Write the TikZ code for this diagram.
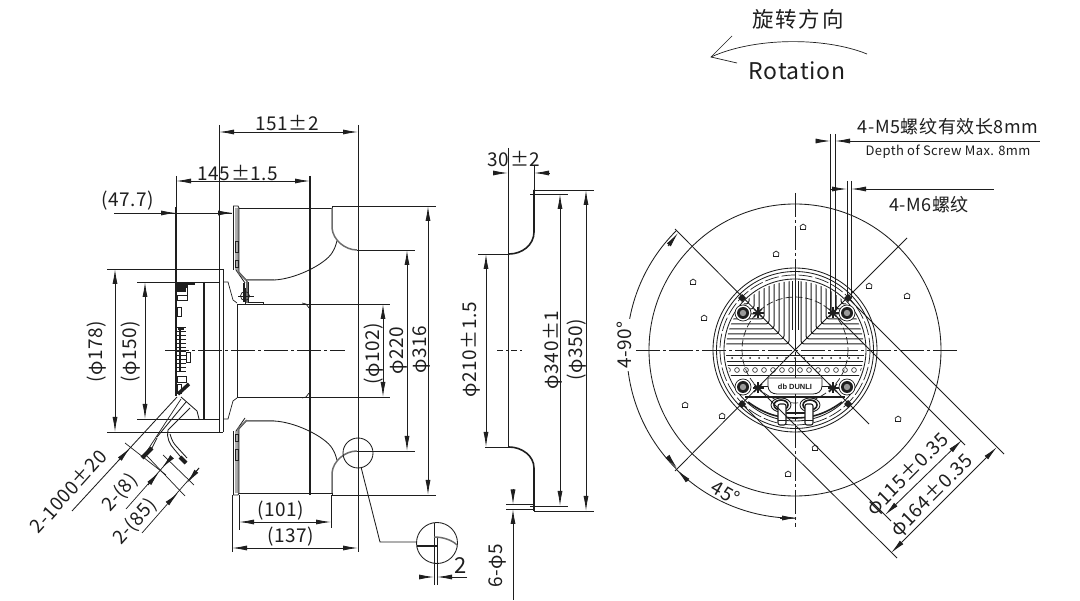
\documentclass[tikz,border=0pt]{standalone}
\usepackage{fontspec}
\setmainfont[LetterSpace=3]{Noto Sans CJK SC}
\newfontfamily\smallcn[LetterSpace=3]{Noto Sans CJK SC}
\newfontfamily\widecn[LetterSpace=9]{Noto Sans CJK SC}
\newfontfamily\brandfont{Liberation Sans}
\usetikzlibrary{arrows.meta}
\definecolor{ink}{HTML}{1E1E1E}
\tikzset{
 ln/.style={draw=ink,line width=0.85pt},
 thin/.style={draw=ink,line width=0.7pt},
 heavy/.style={draw=ink,line width=2pt},
 shade/.style={draw=ink!65,line width=1.5pt},
 cl/.style={draw=ink,line width=0.7pt,dash pattern=on 24pt off 3pt on 3pt off 3pt},
 both/.style={ln,{Latex[length=15pt,width=5pt]}-{Latex[length=15pt,width=5pt]}},
 tipe/.style={ln,-{Latex[length=15pt,width=5pt]}},
 tips/.style={ln,{Latex[length=15pt,width=5pt]}-},
 txt/.style={inner sep=0pt,text=ink,font=\fontsize{19}{21}\selectfont},
 hole/.style={draw=ink,line width=0.7pt},
}
\newcommand{\starmark}[2]{\foreach \a in {0,45,...,315}{\draw[line width=1.1pt,ink] (#1,#2) -- ++(\a:5.5);}\fill[ink] (#1,#2) circle (2);}
\newcommand{\boltmark}[2]{\fill[white] (#1,#2) circle (8);\draw[thin] (#1,#2) circle (8);\fill[ink] (#1,#2) circle (6);\fill[ink!45] (#1,#2) circle (3.2);}
\newcommand{\halfside}{%
 % plate
 \draw[ln] (233,206) -- (238,206) -- (239,208) -- (239,272) -- (247,281);
 \draw[ln] (233,206) -- (233,270);
 \draw[ln] (236,208) -- (236,270) -- (245,283);
 \draw[shade] (238,208) -- (238,272) -- (246,280) -- (274,280);
 \draw[thin] (235,241) rectangle (238,252);
 \draw[thin] (235,260) rectangle (238,267);
 % blade curve
 \draw[ln] (274,280) .. controls (296,279) and (325,264) .. (332,253) .. controls (335,248) and (336,245) .. (337,241);
 % shroud
 \draw[ln] (239,208) -- (332,208);
 \draw[ln] (332,208) -- (332,206) -- (339,206);
 \draw[ln] (332,208) -- (332,230);
 \draw[shade] (332,208) -- (332,228) .. controls (333,240) and (345,250) .. (357,250);
 \draw[ln] (339,206) -- (436,206);
 \draw[ln] (357,250) -- (415,250);
 \draw[ln] (237,304) -- (390,304);
 \draw[ln] (237,304) -- (237,352);
 \draw[thin] (302,303) -- (306,304) -- (309,308);
 % housing
 \draw[ln] (107,269) -- (223,269);
 \draw[ln] (137,282) -- (220,282);
 \draw[thin] (223,282) -- (228,282) -- (233,300) -- (237,303);
}
\begin{document}
\begin{tikzpicture}[x=1pt,y=-1pt]
\useasboundingbox (0,0) rectangle (1080,601);
\fill[white] (0,0) rectangle (1080,601);

% ---------- rotation ----------
\node[txt,font=\widecn\fontsize{21.5}{23}\selectfont] (cnrot) at (798,19) {旋转方向};
\node[txt,font=\fontsize{23}{25}\selectfont] (enrot) at (797,71) {Rotation};
\draw[thin] (711,57) .. controls (755,37) and (825,37) .. (867,54);
\draw[thin] (732,36) -- (711,57) -- (737,63);

% ---------- left view ----------
\halfside
\begin{scope}[shift={(0,701)},yscale=-1]
\halfside
\end{scope}
% bolt
\draw[shade] (247,281) -- (247,303);
\draw[thin] (248,282) -- (248,302) -- (263,302) -- (263,304);
\draw[thin] (245,296) circle (4.5);
\draw[thin] (238,296) -- (254,296) (245,288) -- (245,304);
\draw[heavy,line width=2.4pt] (244,283) -- (244,302);

% long verticals
\draw[ln] (219,125) -- (219,432);
\draw[ln] (223,269) -- (223,432);
\draw[ln] (358,125) -- (358,552);
\draw[ln,line width=1.1pt] (310,176) -- (310,495);
\draw[heavy,line width=1.6pt] (176,207) -- (176,396);
\draw[heavy,line width=1.6pt] (204,282) -- (204,419);
\draw[cl] (165,350) -- (345,350);

% motor details
\fill[ink] (176,283) rectangle (188,288);
\fill[ink] (188,283) rectangle (195,285);
\fill[ink] (176,288) rectangle (186,292);
\draw[thin] (177,295) rectangle (187,300);
\draw[thin] (177,307) rectangle (181,316);
\foreach \yy in {327,331,...,371}{\draw[thin] (177,\yy) -- (186,\yy);}
\draw[heavy,line width=1.2pt] (180,327) -- (180,372);
\fill[ink] (178,327) rectangle (184,330);
\draw[thin] (177,376) rectangle (186,382);
\draw[thin] (177,384) rectangle (181,393);
\draw[thin] (186,352) rectangle (190,362);
\draw[ln] (187,282) -- (187,300);

% cable
\draw[heavy,line width=3.5pt] (178,394) -- (189,384);
\draw[thin] (181,399) -- (147,451);
\draw[ln] (177,397) -- (72,511);
\draw[ln] (186,402) -- (157,437);
\draw[ln] (190,408) -- (168,430);
\draw[ln] (181,397) -- (197,411) -- (199,419);
\draw[ln] (157,438) -- (152,448);
\draw[ln] (168,430) .. controls (166,437) and (170,445) .. (174,449) -- (185,462);
\draw[ln] (170,434) .. controls (172,441) and (174,444) .. (177,447) -- (187,458);
\draw[heavy,line width=4pt,ink] (142,458) -- (152,448);
\draw[heavy,line width=4pt,ink] (180,457) -- (186,463);
% cable dims
\draw[thin] (125,443) -- (166,475);
\draw[thin] (147,456) -- (185,496);
\draw[thin] (163,455) -- (194,485);
\draw[tipe,line width=0.7pt] (119,460) -- (130,448);
\draw[tipe] (148,485) -- (159,472);
\draw[tipe] (171,458) -- (162,468);
\draw[thin] (126,509) -- (171,458);
\draw[tipe] (168,503) -- (178,493);
\draw[tipe] (199,468) -- (187,483);
\draw[thin] (142,533) -- (199,468);
\node[txt,rotate=48] (t1000) at (68,491) {2-1000±20};
\node[txt,rotate=48] (t8) at (120,493) {2-(8)};
\node[txt,rotate=48] (t85) at (135,522) {2-(85)};

% left dims
\draw[both] (115,269) -- (115,432);
\draw[both] (145,282) -- (145,419);
\node[txt,rotate=90] (t178) at (97,352) {(φ178)};
\node[txt,rotate=90] (t150) at (131,352) {(φ150)};
\draw[ln] (107,432) -- (223,432);
\draw[ln] (137,419) -- (220,419);

\draw[both] (219,132) -- (358,132);
\node[txt] (t151) at (287,123) {151±2};
\draw[both] (176,181) -- (310,181);
\node[txt] (t145) at (238,173) {145±1.5};
\draw[ln] (176,176) -- (176,207);
\draw[ln] (114,213) -- (232,213);
\draw[tipe] (160,213) -- (176,213);
\draw[tipe] (218,213) -- (233,213);
\node[txt] (t477) at (128,201) {(47.7)};

\draw[both] (428,206) -- (428,495);
\draw[both] (407,250) -- (407,451);
\draw[both] (383,304) -- (383,397);
\node[txt,rotate=90] (t102) at (374,354) {(φ102)};
\node[txt,rotate=90] (t220) at (398,351) {φ220};
\node[txt,rotate=90] (t316) at (421,350) {φ316};

% bottom dims
\draw[ln] (239,495) -- (239,530);
\draw[ln] (232,495) -- (232,552);
\draw[ln] (331,495) -- (331,528);
\draw[both] (239,522) -- (331,522);
\draw[both] (232,548) -- (358,548);
\node[txt] (t101) at (281,511) {(101)};
\node[txt] (t137) at (291,537) {(137)};

% detail
\draw[ln] (358,453) circle (15);
\draw[ln] (361,467) -- (380,542) -- (417,542);
\draw[ln] (437,543) circle (20.5);
\draw[ln] (434,523) -- (434,585);
\draw[ln] (437,537) -- (437,585);
\draw[heavy,line width=1.6pt] (417,546) -- (437,546);
\draw[shade] (434,537) .. controls (443,537) and (452,540) .. (457,545);
\draw[tipe] (419,577) -- (434,577);
\draw[tipe] (467,577) -- (437,577);
\node[txt,font=\fontsize{22}{24}\selectfont] (t2) at (461,566) {2};

% ---------- middle view ----------
\draw[ln] (508,148) -- (508,447);
\draw[ln] (534,165) -- (534,190);
\draw[tipe] (493,173) -- (508,173);
\draw[tipe] (549,173) -- (534,173);
\node[txt] (t30) at (514,159) {30±2};
\draw[ln] (534,190) -- (594,190);
\draw[ln] (530,194) -- (568,194);
\draw[heavy,line width=1.6pt] (534,190) -- (534,232) .. controls (534,245) and (522,254) .. (509,254);
\draw[ln] (478,254) -- (509,254);
\draw[ln] (485,447) -- (509,447);
\draw[heavy,line width=1.6pt] (509,447) .. controls (522,447) and (534,456) .. (534,468) -- (534,511);
\draw[ln] (534,511) -- (594,511);
\draw[ln] (530,506) -- (568,506);
\draw[ln] (506,504.5) -- (533,504.5);
\draw[ln] (506,509) -- (533,509);
\draw[both] (486,254) -- (486,447);
\draw[both] (560,194) -- (560,506);
\draw[both] (586,190) -- (586,511);
\draw[thin,dash pattern=on 6pt off 3pt on 2pt off 3pt] (497,350) -- (522,350);
\draw[tipe] (513,489) -- (513,504.5);
\draw[tips] (513,509) -- (513,600);
\node[txt,rotate=90] (t6) at (497,566) {6-φ5};
\node[txt,rotate=90] (t210) at (471,350) {φ210±1.5};
\node[txt,rotate=90] (t340) at (553,350) {φ340±1};
\node[txt,rotate=90] (t350) at (577,350) {(φ350)};

% ---------- right view ----------
\coordinate (c) at (795,350);
\draw[ln] (c) circle (146);
\draw[ln] (c) circle (82);
\draw[ln] (c) circle (78.5);
\draw[thin,dash pattern=on 14pt off 3pt] (c) circle (75);
\draw[ln] (c) circle (71);
\foreach \p in {(803,227),(776,254),(693,282),(869,286),(907,296),(704,318),(685,405),(722,416),(788,474),(815,448),(898,419)}{
 \path \p coordinate (hh);
 \draw[hole] (hh) ++(-2.5,2.5) -- ++(5,0) -- ++(0.4,-3.5) -- ++(-2.8,-2) -- ++(-2.8,2) -- cycle;
}
\begin{scope}
 \clip (c) circle (69);
 \foreach \d in {6,11,...,51}{
  \draw[line width=1pt,ink,rounded corners=3pt] (700,350-\d) -- (795-\d,350-\d) -- (795-\d,260);
  \draw[line width=1pt,ink,rounded corners=3pt] (890,350-\d) -- (795+\d,350-\d) -- (795+\d,260);
 }
 \foreach \d in {-3,0,3}{ \draw[line width=0.7pt,ink] (795+\d,278) -- (795+\d,330);}
 \draw[thin] (700,355) -- (890,355);
 \draw[thin] (700,361) -- (890,361);
 \draw[thin] (700,365) -- (890,365);
 \draw[thin] (700,375) -- (890,375);
 \foreach \xx in {728,737,...,864}{
  \draw[line width=0.6pt,ink] (\xx,370) circle (2.4);
  \fill[ink] (\xx+4,358) circle (1);
 }
 \draw[thin,dash pattern=on 7pt off 3pt] (c) circle (53);
\end{scope}
\draw[cl] (636,350) -- (958,350);
\draw[cl] (795,193) -- (795,527);
% brand plate
\fill[white,draw=ink,line width=0.8pt] (768,378) -- (822,378) -- (822,386) .. controls (822,391) and (818,394) .. (813,394) -- (777,394) .. controls (772,394) and (768,391) .. (768,386) -- cycle;
\node[inner sep=0pt,text=ink,font=\brandfont\bfseries\fontsize{7.5}{8}\selectfont] (brand) at (795,387) {db DUNLI};
% lower chord and glands
\draw[heavy,line width=1.8pt] (745,397) -- (845,397);
\draw[ln] (754,386) -- (768,386) (822,386) -- (836,386);
\draw[heavy,line width=1.6pt] (748,402) .. controls (762,412) and (775,418) .. (795,418) .. controls (815,418) and (828,412) .. (842,402);
\draw[heavy,line width=1.4pt] (786,413) -- (805,413);
\foreach \xx in {781,810}{
 \fill[white] (\xx,405) ellipse (10 and 7);
 \draw[ln] (\xx,405) ellipse (10 and 7);
 \draw[heavy,line width=1.6pt] (\xx,405) ellipse (7 and 5);
}
\foreach \xx/\xb in {778/786,805/813}{
 \draw[fill=white,draw=ink,line width=1.1pt,rounded corners=2pt] (\xx,404) rectangle (\xb,425);
 \draw[thin] (\xx,420) -- (\xb,420);
}
% bolts
\boltmark{743}{313}
\boltmark{847}{313}
\boltmark{743}{387}
\boltmark{847}{387}
\starmark{758}{313}
\starmark{833}{313}
\starmark{758}{388}
\starmark{833}{388}
\foreach \xx/\yy in {742/298,848/298,742/404,848/404}{
 \fill[ink] (\xx-4,\yy) -- (\xx,\yy-4) -- (\xx+4,\yy) -- (\xx,\yy+4) -- cycle;
}
% diagonals
\draw[ln] (675,229) -- (c);
\draw[ln] (675,471) -- (c);
\draw[ln] (907,238) -- (c);
\draw[ln] (c) -- (869,424);
% pcd dims
\draw[ln] (758,388) -- (891,521);
\draw[ln] (833,313) -- (965,445);
\draw[ln] (742,404) -- (897,558);
\draw[ln] (848,298) -- (1004,454);
\draw[ln] (830.5,134) -- (830.5,313);
\draw[ln] (835,134) -- (835,313);
\draw[ln] (847,181) -- (847,298);
\draw[ln] (851,181) -- (851,298);
\draw[both] (885,515) -- (962,440);
\draw[both] (891,553) -- (997,447);
\node[txt,rotate=45] (t115) at (908,475) {φ115±0.35};
\node[txt,rotate=45] (t164) at (932,496) {φ164±0.35};
% angle arcs
\draw[ln] (676,231) arc[start angle=225,end angle=135,radius=168];
\draw[ln] (676,469) arc[start angle=135,end angle=90,radius=168];
\draw[tipe] (668,246) -- (678,233);
\draw[tipe] (668,457) -- (677,468);
\draw[tipe] (688,481) -- (677,470);
\draw[tipe] (780,518) -- (797,518);
\node[txt,rotate=90,fill=white,inner sep=2pt] (t90) at (624,345) {4-90°};
\node[txt,rotate=-30] (t45) at (726,493) {45°};

% screw callouts
\draw[tipe] (816,141) -- (830.5,141);
\draw[ln,{Latex[length=15pt,width=5pt]}-] (835,141) -- (1040,141);
\node[txt,font=\fontsize{18}{20}\selectfont] (tm5) at (948,127) {4-M5螺纹有效长8mm};
\node[txt,font=\smallcn\fontsize{13}{15}\selectfont] (tdep) at (948,152) {Depth of Screw Max. 8mm};
\draw[tipe] (830,189) -- (847,189);
\draw[ln,{Latex[length=15pt,width=5pt]}-] (851,189) -- (994,189);
\node[txt,font=\fontsize{18}{20}\selectfont] (tm6) at (929,205) {4-M6螺纹};
\end{tikzpicture}
\end{document}
